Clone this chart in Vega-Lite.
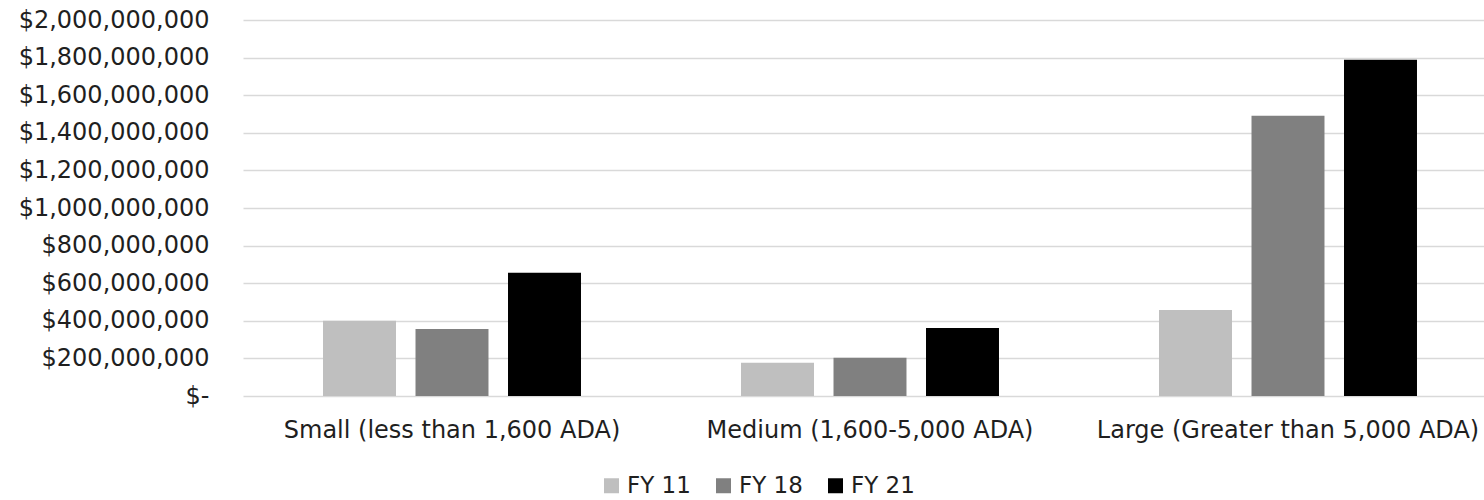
{
  "$schema": "https://vega.github.io/schema/vega-lite/v6.json",
  "width": 1241,
  "height": 376,
  "autosize": "none",
  "padding": {"left": 243, "top": 20, "right": 0, "bottom": 104},
  "background": "white",
  "data": {
    "values": [
      {"size": "Small (less than 1,600 ADA)", "year": "FY 11", "amount": 400000000},
      {"size": "Small (less than 1,600 ADA)", "year": "FY 18", "amount": 357000000},
      {"size": "Small (less than 1,600 ADA)", "year": "FY 21", "amount": 655000000},
      {"size": "Medium (1,600-5,000 ADA)", "year": "FY 11", "amount": 177000000},
      {"size": "Medium (1,600-5,000 ADA)", "year": "FY 18", "amount": 204000000},
      {"size": "Medium (1,600-5,000 ADA)", "year": "FY 21", "amount": 362000000},
      {"size": "Large (Greater than 5,000 ADA)", "year": "FY 11", "amount": 457000000},
      {"size": "Large (Greater than 5,000 ADA)", "year": "FY 18", "amount": 1491000000},
      {"size": "Large (Greater than 5,000 ADA)", "year": "FY 21", "amount": 1789000000}
    ]
  },
  "mark": {"type": "bar"},
  "encoding": {
    "x": {
      "field": "size",
      "type": "nominal",
      "sort": ["Small (less than 1,600 ADA)", "Medium (1,600-5,000 ADA)", "Large (Greater than 5,000 ADA)"],
      "scale": {"range": [0, 1254], "paddingInner": 0, "paddingOuter": 0},
      "axis": {
        "title": null,
        "labelAngle": 0,
        "domain": false,
        "ticks": false,
        "grid": false,
        "labelLimit": 0,
        "labelPadding": 22,
        "labelFont": "DejaVu Sans",
        "labelFontSize": 24,
        "labelColor": "#1f1f1f"
      }
    },
    "xOffset": {
      "field": "year",
      "type": "nominal",
      "sort": ["FY 11", "FY 18", "FY 21"],
      "scale": {"paddingInner": 0.211, "paddingOuter": 0.865}
    },
    "y": {
      "field": "amount",
      "type": "quantitative",
      "scale": {"domain": [0, 2000000000], "nice": false},
      "axis": {
        "title": null,
        "values": [0, 200000000, 400000000, 600000000, 800000000, 1000000000, 1200000000, 1400000000, 1600000000, 1800000000, 2000000000],
        "labelExpr": "datum.value == 0 ? '$-\u00a0\u00a0\u00a0' : '$' + format(datum.value, ',')",
        "domain": false,
        "ticks": false,
        "labelLimit": 0,
        "labelPadding": 34,
        "labelFont": "DejaVu Sans",
        "labelFontSize": 24,
        "labelColor": "#1f1f1f",
        "gridColor": "#d9d9d9",
        "gridWidth": 1.5
      }
    },
    "color": {
      "field": "year",
      "type": "nominal",
      "sort": ["FY 11", "FY 18", "FY 21"],
      "scale": {"domain": ["FY 11", "FY 18", "FY 21"], "range": ["#bfbfbf", "#808080", "#000000"]},
      "legend": {
        "title": null,
        "orient": "none",
        "direction": "horizontal",
        "legendX": 357,
        "legendY": 454,
        "padding": 0,
        "symbolType": "square",
        "symbolSize": 225,
        "symbolStrokeWidth": 0,
        "labelLimit": 0,
        "labelFont": "DejaVu Sans",
        "labelFontSize": 23,
        "labelColor": "#1f1f1f",
        "labelOffset": 4,
        "columnPadding": 21
      }
    }
  },
  "config": {"view": {"stroke": null}}
}
